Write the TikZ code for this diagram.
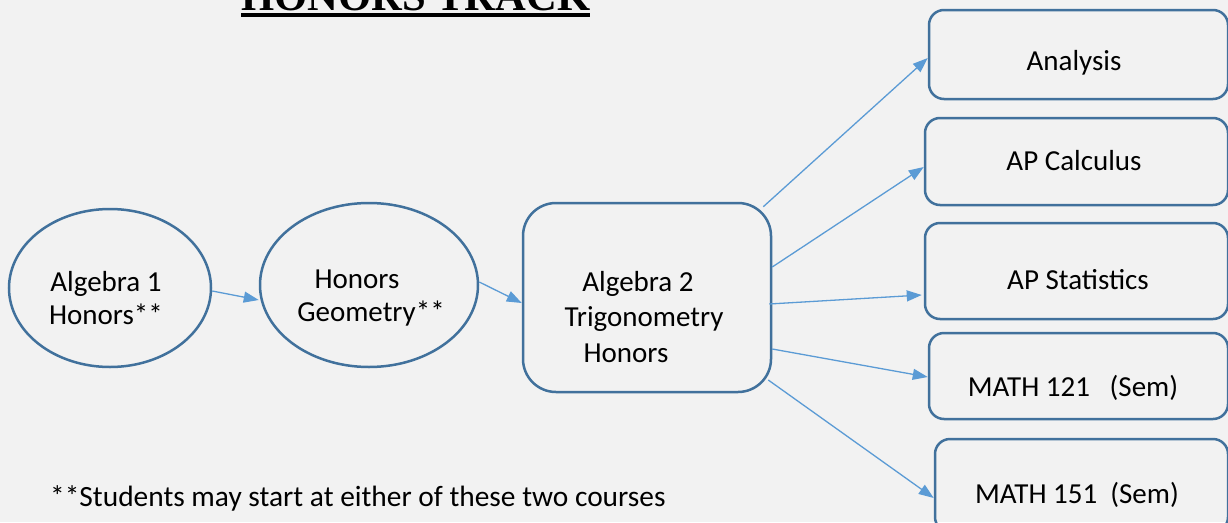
\documentclass[tikz,border=0pt]{standalone}
\usepackage{fontspec}
\setmainfont{Carlito}
\newfontfamily\titlefont{Liberation Serif}
\usetikzlibrary{arrows.meta,shapes.geometric}
\definecolor{bgc}{HTML}{F2F2F2}
\definecolor{edgec}{HTML}{41719C}
\definecolor{arrc}{HTML}{5B9BD5}
\begin{document}
\begin{tikzpicture}[x=1pt,y=-1pt,
  shapeline/.style={draw=edgec,line width=2.5pt},
  ell/.style={shapeline,ellipse,inner sep=0pt},
  rbox/.style={shapeline,rectangle,rounded corners=15pt,inner sep=0pt},
  lbl/.style={font=\fontsize{29}{33}\selectfont,align=center,inner sep=0pt},
  conn/.style={draw=arrc,line width=1.3pt,-{Triangle[length=15pt,width=11pt]}}]
\clip (0,0) rectangle (1228,522);
\fill[bgc] (0,0) rectangle (1228,522);

\node[anchor=base west,inner sep=0pt,font=\titlefont\bfseries\fontsize{42.6}{45}\selectfont] (title) at (241,10) {\rlap{\rule[-7pt]{349pt}{4pt}}HONORS TRACK};

\node[ell,minimum width=202pt,minimum height=158pt,
  label={[lbl,xshift=-4pt,yshift=-10.5pt]center:Algebra 1\\Honors**}] (alg1) at (110,288) {};
\node[ell,minimum width=218pt,minimum height=164pt,
  label={[lbl,xshift=2pt,yshift=-13pt]center:Honors\hspace*{28pt}\\Geometry**}] (geo) at (369,285) {};
\node[rbox,rounded corners=33pt,minimum width=248pt,minimum height=189pt,
  label={[lbl,font=\fontsize{29}{35.5}\selectfont,xshift=-3pt,yshift=-19.5pt]center:Algebra 2\hspace*{12pt}\\Trigonometry\\Honors\hspace*{36pt}}] (alg2) at (647,297.5) {};

\node[rbox,minimum width=299pt,minimum height=89pt,
  label={[lbl,xshift=-4.5pt,yshift=-8.5pt]center:Analysis}] (ana) at (1078.5,54.5) {};
\node[rbox,minimum width=303pt,minimum height=87pt,
  label={[lbl,xshift=-2.5pt,yshift=1pt]center:AP Calculus}] (calc) at (1076.5,161.5) {};
\node[rbox,minimum width=303pt,minimum height=96pt,
  label={[lbl,xshift=1.5pt,yshift=-9pt]center:AP Statistics}] (stat) at (1076.5,271) {};
\node[rbox,minimum width=299pt,minimum height=86pt,
  label={[lbl,xshift=-5.5pt,yshift=-12pt]center:MATH 121\hspace{19.7pt}(Sem)}] (m121) at (1078.5,376) {};
\node[rbox,minimum width=293pt,minimum height=93pt,
  label={[lbl,xshift=-4.5pt,yshift=-9.5pt]center:MATH 151\hspace{13.1pt}(Sem)}] (m151) at (1081.5,485.5) {};

\node[anchor=base west,inner sep=0pt,font=\fontsize{29.4}{33}\selectfont] (note) at (50,506) {**Students may start at either of these two courses};

\draw[conn] ([yshift=-3pt]alg1.east) -- ([yshift=-15pt]geo.west);
\draw[conn] ([yshift=3pt]geo.east) -- ([yshift=-5.5pt]alg2.west);
\draw[conn] ([xshift=-9pt,yshift=-5pt]alg2.north east) -- ([yshift=-3.5pt]ana.west);
\draw[conn] ([yshift=30.5pt]alg2.east) -- ([yshift=-5.5pt]calc.west);
\draw[conn] ([xshift=-3pt,yshift=-6.5pt]alg2.east) -- ([xshift=-2pt,yshift=-24pt]stat.west);
\draw[conn] ([yshift=-51.5pt]alg2.east) -- ([yshift=-1pt]m121.west);
\draw[conn] ([xshift=-4pt,yshift=-82.5pt]alg2.east) -- ([yshift=-12.5pt]m151.west);
\end{tikzpicture}
\end{document}
